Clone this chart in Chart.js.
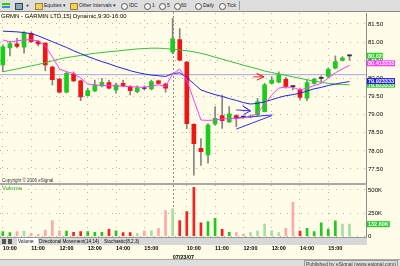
<!DOCTYPE html>
<html>
<head>
<meta charset="utf-8">
<script src="https://cdn.jsdelivr.net/npm/chart.js@4.4.0/dist/chart.umd.min.js"></script>
<style>
  html, body { margin: 0; padding: 0; background: #fffde8; }
  #wrap { position: relative; width: 400px; height: 266px; overflow: hidden; background: #fffde8;
          font-family: "Liberation Sans", Arial, sans-serif; }
  canvas { position: absolute; left: 0; }
  #priceChart { top: 12px; }
  #volChart { top: 184px; }
  .abs { position: absolute; white-space: nowrap; }
  #toolbar { left: 0; top: 0; width: 400px; height: 11px; background: #dedede; border-bottom: 1px solid #8a8a8a; }
  #toolbar span { position: absolute; font-size: 5px; line-height: 11px; color: #222; }
  .ico { top: 3px; height: 5px; }
  .clk { top: 2.5px; width: 5px; height: 5px; border: 0.7px solid #555; border-radius: 50%; background: #f4f4f4; }
  .fold { top: 3px; width: 6px; height: 5px; background: #f0d060; border: 0.5px solid #a08020; }
  #title { left: 1px; top: 12px; font-size: 6px; color: #000; line-height: 8px; }
  #copy { left: 2px; top: 178px; font-size: 4.5px; color: #333; }
  #volLbl { left: 2px; top: 184px; font-size: 6px; color: #2aa02a; line-height: 8px; }
  .sep { background: #a8a8a8; }
  #tabs { left: 0; top: 237px; width: 367px; height: 7px; background: #d8d8d8; border-top: 0.5px solid #999; }
  #tabs span { position: absolute; top: 0; font-size: 4.7px; line-height: 7px; color: #000; }
  .btn { width: 4px; height: 5px; top: 1px !important; background: #555; }
  #status { left: 0; top: 259px; width: 400px; height: 7px; background: #dedede; border-top: 1px solid #aaa; }
  #status span { position: absolute; right: 2px; top: 0; font-size: 5px; line-height: 7px; color: #333;
                 border: 0.5px solid #999; padding: 0 1px; }
</style>
</head>
<body>
<div id="wrap">
  <div id="toolbar" class="abs">
    <span class="ico" style="left:2px;width:8px;background:linear-gradient(#2c2 0 35%,#ee3 35% 65%,#38f 65%)"></span>
    <span class="ico" style="left:15px;width:6px;background:#8ab;border:0.5px solid #345"></span>
    <span style="left:26px;font-weight:bold;">+</span>
    <span class="fold" style="left:35px"></span>
    <span style="left:44px">Equities &#9662;</span>
    <span class="fold" style="left:70px"></span>
    <span style="left:79px">Other Intervals &#9662;</span>
    <span class="clk" style="left:121px"></span><span style="left:129px">IDC</span>
    <span class="clk" style="left:144px"></span><span style="left:152px">1</span>
    <span class="clk" style="left:159px"></span><span style="left:167px">5</span>
    <span class="clk" style="left:174px"></span><span style="left:181px">60</span>
    <span class="clk" style="left:195px"></span><span style="left:203px">Daily</span>
    <span class="clk" style="left:219px"></span><span style="left:227px">Tick</span>
    <span style="left:239px;top:1px;width:1px;height:9px;background:#999"></span>
  </div>

  <canvas id="priceChart" width="400" height="172"></canvas>
  <canvas id="volChart" width="400" height="75"></canvas>

  <div id="title" class="abs">GRMN - GARMIN LTD,15] Dynamic,9:30-16:00</div>
  <div id="copy" class="abs">Copyright &copy; 2006 eSignal.</div>
  <div class="abs sep" style="left:0;top:183px;width:367px;height:1.5px"></div>
  <div id="volLbl" class="abs">Volume</div>

  <div id="tabs" class="abs">
    <span class="btn" style="left:2px"></span>
    <span class="btn" style="left:8px"></span>
    <span style="left:17px;width:20px;background:#fff;padding-left:1px">Volume</span>
    <span style="left:39px">Directional Movement(14,14)</span>
    <span style="left:104px">Stochastic(8,2,3)</span>
  </div>
  <div id="status" class="abs"><span>Published by eSignal (www.esignal.com)</span></div>
</div>

<script>
// bar times, 15 minute bars: 07/20 from 10:00, then 07/23 from 9:30
const barTimes = [
  '10:00','10:15','10:30','10:45','11:00','11:15','11:30','11:45','12:00','12:15','12:30','12:45',
  '13:00','13:15','13:30','13:45','14:00','14:15','14:30','14:45','15:00','15:15','15:30','15:45',
  '9:30','9:45','10:00','10:15','10:30','10:45','11:00','11:15','11:30','11:45','12:00','12:15',
  '12:30','12:45','13:00','13:15','13:30','13:45','14:00','14:15','14:30','14:45','15:00','15:15',
  '15:30','15:45'
];
const dayStartBar = 24;
const dateLabel = '07/23/07';
const tickBars = [0, 4, 8, 12, 16, 20, 24, 26, 30, 34, 38, 42, 46];

const openP  = [80.37,80.84,80.95,80.86,81.24,81.01,80.97,80.31,79.98,79.62,80.12,79.93,
                79.52,79.65,79.79,79.88,79.68,79.86,79.77,79.63,79.72,79.71,79.93,79.84,
                80.73,81.07,80.45,78.73,78.07,77.89,78.74,78.97,78.80,78.97,78.93,78.93,
                79.00,79.08,79.86,79.89,79.97,79.77,79.68,79.45,79.86,80.00,80.05,80.28,
                80.49,80.62];
const highP  = [80.92,81.02,81.10,81.29,81.28,81.04,80.98,80.34,80.00,80.18,80.18,79.95,
                79.73,79.95,80.00,79.95,79.87,79.95,79.80,79.79,79.79,79.95,79.95,79.87,
                81.65,81.37,80.47,78.75,78.34,78.75,79.22,79.54,79.22,79.00,78.96,78.99,
                79.45,79.86,80.05,80.18,80.03,79.80,79.73,79.95,80.00,80.07,80.29,80.62,
                80.60,80.65];
const lowP   = [80.18,80.62,80.84,80.69,80.98,80.89,80.21,79.82,79.59,79.60,79.91,79.38,
                79.51,79.63,79.76,79.70,79.59,79.77,79.54,79.60,79.68,79.68,79.84,79.62,
                80.68,80.48,78.61,77.33,77.60,77.66,78.71,78.62,78.78,78.67,78.90,78.91,
                78.94,79.07,79.84,79.87,79.73,79.68,79.40,79.38,79.84,79.91,80.02,80.26,
                80.47,80.50];
const closeP = [80.87,80.96,80.88,81.24,81.01,80.95,80.37,79.96,79.62,80.14,79.93,79.49,
                79.66,79.82,79.89,79.73,79.82,79.80,79.66,79.74,79.72,79.91,79.86,79.73,
                81.09,80.50,78.75,78.20,77.98,78.71,78.90,78.83,79.02,78.90,78.93,78.96,
                79.36,79.82,79.95,80.09,79.77,79.77,79.47,79.88,79.97,80.00,80.25,80.46,
                80.56,80.62];

const maGreen   = [80.18,80.22,80.26,80.30,80.34,80.38,80.43,80.48,80.53,80.57,80.60,80.63,
                   80.66,80.69,80.71,80.73,80.75,80.77,80.79,80.81,80.82,80.83,80.83,80.82,
                   80.80,80.78,80.76,80.73,80.69,80.64,80.58,80.53,80.47,80.42,80.36,80.31,
                   80.26,80.20,80.16,80.12,80.08,80.04,80.00,79.96,79.92,79.89,79.86,79.84,
                   79.83,79.82];
const maBlue    = [81.30,81.29,81.28,81.26,81.23,81.17,81.09,81.01,80.93,80.85,80.76,80.68,
                   80.60,80.53,80.46,80.40,80.33,80.27,80.21,80.16,80.12,80.09,80.07,80.05,
                   80.13,80.15,80.02,79.85,79.68,79.61,79.55,79.50,79.44,79.39,79.33,79.29,
                   79.31,79.35,79.41,79.47,79.52,79.55,79.59,79.65,79.71,79.75,79.80,79.84,
                   79.88,79.91];
const maMagenta = [81.06,81.00,81.03,81.06,81.06,81.03,80.89,80.59,80.26,80.18,80.13,80.01,
                   79.84,79.82,79.80,79.80,79.79,79.78,79.77,79.76,79.75,79.79,79.82,79.77,
                   80.12,80.26,79.95,79.40,78.85,78.84,78.85,78.88,78.89,78.90,78.91,78.94,
                   79.04,79.29,79.54,79.73,79.76,79.75,79.68,79.73,79.80,79.86,80.01,80.15,
                   80.26,80.36];
const hLineLevel = 80.10;

// hand drawn lines and arrows on the chart (bar index, price)
const blueTrendTop    = [{x: 32.6, y: 78.90}, {x: 38.1, y: 78.99}];
const blueTrendBottom = [{x: 33.0, y: 78.60}, {x: 38.0, y: 78.97}];
const blueArrow       = [{x: 33.0, y: 79.13}, {x: 35.0, y: 79.10}, {x: 33.9, y: 79.24}, {x: 35.0, y: 79.10}, {x: 34.0, y: 79.00}];
const redArrow        = [{x: 35.4, y: 80.04}, {x: 36.9, y: 80.04}, {x: 35.9, y: 80.13}, {x: 36.9, y: 80.04}, {x: 35.9, y: 79.95}];

const priceTicks = [77.5, 78.0, 78.5, 79.0, 79.5, 80.0, 80.5, 81.0, 81.5];
const boxLabels = { price: closeP[closeP.length - 1].toFixed(2), magenta: '80.413333', blue: '79.923333', green: '79.823333' };

const volume = [52000,41000,52000,59000,34000,24000,70000,170000,62000,59000,45000,52000,
                52000,45000,45000,77000,62000,41000,41000,34000,59000,62000,88000,277000,
                296000,170000,267000,529000,148000,159000,195000,77000,45000,41000,27000,41000,
                59000,134000,62000,41000,88000,368000,59000,88000,52000,148000,81000,167000,
                134000,132600];
// G/R = full colour, g/r = pale colour
const volTone = ['G','G','r','g','r','r','r','r','r','G','R','R','G','G','G','R','G','R','R','g',
                 'r','g','r','r','g','R','R','R','R','G','G','R','G','r','r','g','g','g','g','g',
                 'r','r','R','G','G','G','G','G','g','g'];
const volTicks = [0, 250000, 500000];
const volTickLabels = ['0', '250K', '500K'];
const volBoxLabel = '132.60K';

const X_MIN = -0.4, X_MAX = 51.4;
const AXIS_W = 33.5;
const toneColor = { G: '#20c820', g: '#a6dca6', R: '#f82020', r: '#ffa8a8' };
const gridCol = '#b4b4a4';

function xy(arr) { return arr.map((v, i) => ({ x: i, y: v })); }

function dayLinePlugin(fromTop) {
  return {
    id: 'dayLine',
    beforeDatasetsDraw(chart) {
      const c = chart.ctx;
      const x = Math.round(chart.scales.x.getPixelForValue(dayStartBar)) + 0.5;
      c.save();
      c.strokeStyle = '#8c8c8c';
      c.lineWidth = 1;
      c.setLineDash([2, 2]);
      c.beginPath();
      c.moveTo(x, fromTop ? 0 : chart.chartArea.top);
      c.lineTo(x, chart.chartArea.bottom);
      c.stroke();
      c.restore();
    }
  };
}

function drawBox(chart, value, text, bg, fg) {
  const c = chart.ctx;
  const y = chart.scales.y.getPixelForValue(value);
  c.save();
  c.font = 'bold 5.5px "Liberation Sans", Arial';
  const w = c.measureText(text).width + 2;
  c.fillStyle = bg;
  c.fillRect(chart.chartArea.right + 0.5, y - 3, w, 6);
  c.fillStyle = fg;
  c.textBaseline = 'middle';
  c.fillText(text, chart.chartArea.right + 1.5, y + 0.3);
  c.restore();
}

function fixAxis(width, height) {
  return function (scale) {
    if (width !== null) scale.width = width;
    if (height !== null) scale.height = height;
    scale.paddingTop = 0; scale.paddingBottom = 0;
    scale.paddingLeft = 0; scale.paddingRight = 0;
  };
}

function xScale(showLabels) {
  return {
    type: 'linear',
    min: X_MIN, max: X_MAX,
    offset: false,
    afterBuildTicks: s => { s.ticks = tickBars.map(v => ({ value: v })); },
    afterFit: fixAxis(null, showLabels ? 22.5 : 0),
    grid: {
      offset: false, drawTicks: false,
      color: ctx => (ctx.tick && ctx.tick.value === dayStartBar) ? 'rgba(0,0,0,0)' : gridCol
    },
    border: { display: false, dash: [1, 6] },
    ticks: {
      display: showLabels,
      autoSkip: false, maxRotation: 0, align: 'start', padding: 7.5,
      color: '#000',
      font: { family: '"Liberation Sans", Arial', size: 5.5, weight: 'bold', lineHeight: 1.6 },
      callback: v => v === dayStartBar ? ['', dateLabel] : barTimes[v]
    }
  };
}

// price panel
const priceChart = new Chart(document.getElementById('priceChart'), {
  type: 'bar',
  data: {
    datasets: [
      { type: 'line', data: [{ x: X_MIN, y: hLineLevel }, { x: X_MAX, y: hLineLevel }],
        borderColor: '#a4a4e6', borderWidth: 1, pointRadius: 0, order: 5 },
      { type: 'bar', data: highP.map((h, i) => ({ x: i, y: [lowP[i], h] })),
        backgroundColor: '#858585', barThickness: 1, grouped: false, order: 4 },
      { type: 'bar', data: openP.map((o, i) => ({ x: i, y: [o, closeP[i]] })),
        backgroundColor: openP.map((o, i) => closeP[i] > o ? '#1ccc1c' : (closeP[i] < o ? '#f01414' : '#303030')),
        barThickness: 4, minBarLength: 1, grouped: false, order: 3 },
      { type: 'line', data: xy(maGreen), borderColor: '#3cbc3c', borderWidth: 1, pointRadius: 0, order: 2 },
      { type: 'line', data: xy(maBlue), borderColor: '#2222e0', borderWidth: 1, pointRadius: 0, order: 1 },
      { type: 'line', data: xy(maMagenta), borderColor: '#ff3cff', borderWidth: 1, pointRadius: 0, order: 0 },
      { type: 'line', data: blueTrendTop, borderColor: '#3030ff', borderWidth: 1, pointRadius: 0, order: 0 },
      { type: 'line', data: blueTrendBottom, borderColor: '#3030ff', borderWidth: 1, pointRadius: 0, order: 0 },
      { type: 'line', data: blueArrow, borderColor: '#3030ff', borderWidth: 1, pointRadius: 0, order: 0 },
      { type: 'line', data: redArrow, borderColor: '#ff2020', borderWidth: 1, pointRadius: 0, order: 0 }
    ]
  },
  options: {
    responsive: false,
    animation: false,
    layout: { padding: { top: 1, bottom: 1, left: 0, right: 0 } },
    plugins: { legend: { display: false }, tooltip: { enabled: false } },
    scales: {
      x: xScale(false),
      y: {
        type: 'linear', position: 'right',
        min: 77.114, max: 81.80,
        afterBuildTicks: s => { s.ticks = priceTicks.map(v => ({ value: v })); },
        afterFit: fixAxis(AXIS_W, null),
        grid: { color: gridCol, drawTicks: false },
        border: { display: true, color: '#8a8a8a', width: 1, dash: [1, 6] },
        ticks: {
          padding: 1.5, color: '#000',
          font: { family: '"Liberation Sans", Arial', size: 6 },
          callback: v => v.toFixed(2)
        }
      }
    }
  },
  plugins: [dayLinePlugin(true), {
    id: 'priceBoxes',
    afterDraw(chart) {
      drawBox(chart, parseFloat(boxLabels.green), boxLabels.green, '#33cc33', '#fff');
      drawBox(chart, parseFloat(boxLabels.blue), boxLabels.blue, '#2020e8', '#fff');
      drawBox(chart, parseFloat(boxLabels.magenta), boxLabels.magenta, '#ff3cff', '#fff');
      drawBox(chart, parseFloat(boxLabels.price), boxLabels.price, '#22dd22', '#fff');
    }
  }]
});

// volume panel
const volChart = new Chart(document.getElementById('volChart'), {
  type: 'bar',
  data: {
    datasets: [{
      data: xy(volume),
      backgroundColor: volTone.map(t => toneColor[t]),
      barThickness: 2, grouped: false
    }]
  },
  options: {
    responsive: false,
    animation: false,
    layout: { padding: { top: 1, bottom: 0, left: 0, right: 0 } },
    plugins: { legend: { display: false }, tooltip: { enabled: false } },
    scales: {
      x: xScale(true),
      y: {
        type: 'linear', position: 'right',
        min: 0, max: 553000,
        afterBuildTicks: s => { s.ticks = volTicks.map(v => ({ value: v })); },
        afterFit: fixAxis(AXIS_W, null),
        grid: { color: gridCol, drawTicks: false },
        border: { display: true, color: '#8a8a8a', width: 1, dash: [1, 6] },
        ticks: {
          padding: 1.5, color: '#000',
          font: { family: '"Liberation Sans", Arial', size: 6 },
          callback: v => volTickLabels[volTicks.indexOf(v)]
        }
      }
    }
  },
  plugins: [dayLinePlugin(false), {
    id: 'volBox',
    afterDraw(chart) {
      drawBox(chart, volume[volume.length - 1], volBoxLabel, '#22cc22', '#fff');
    }
  }]
});
</script>
</body>
</html>
